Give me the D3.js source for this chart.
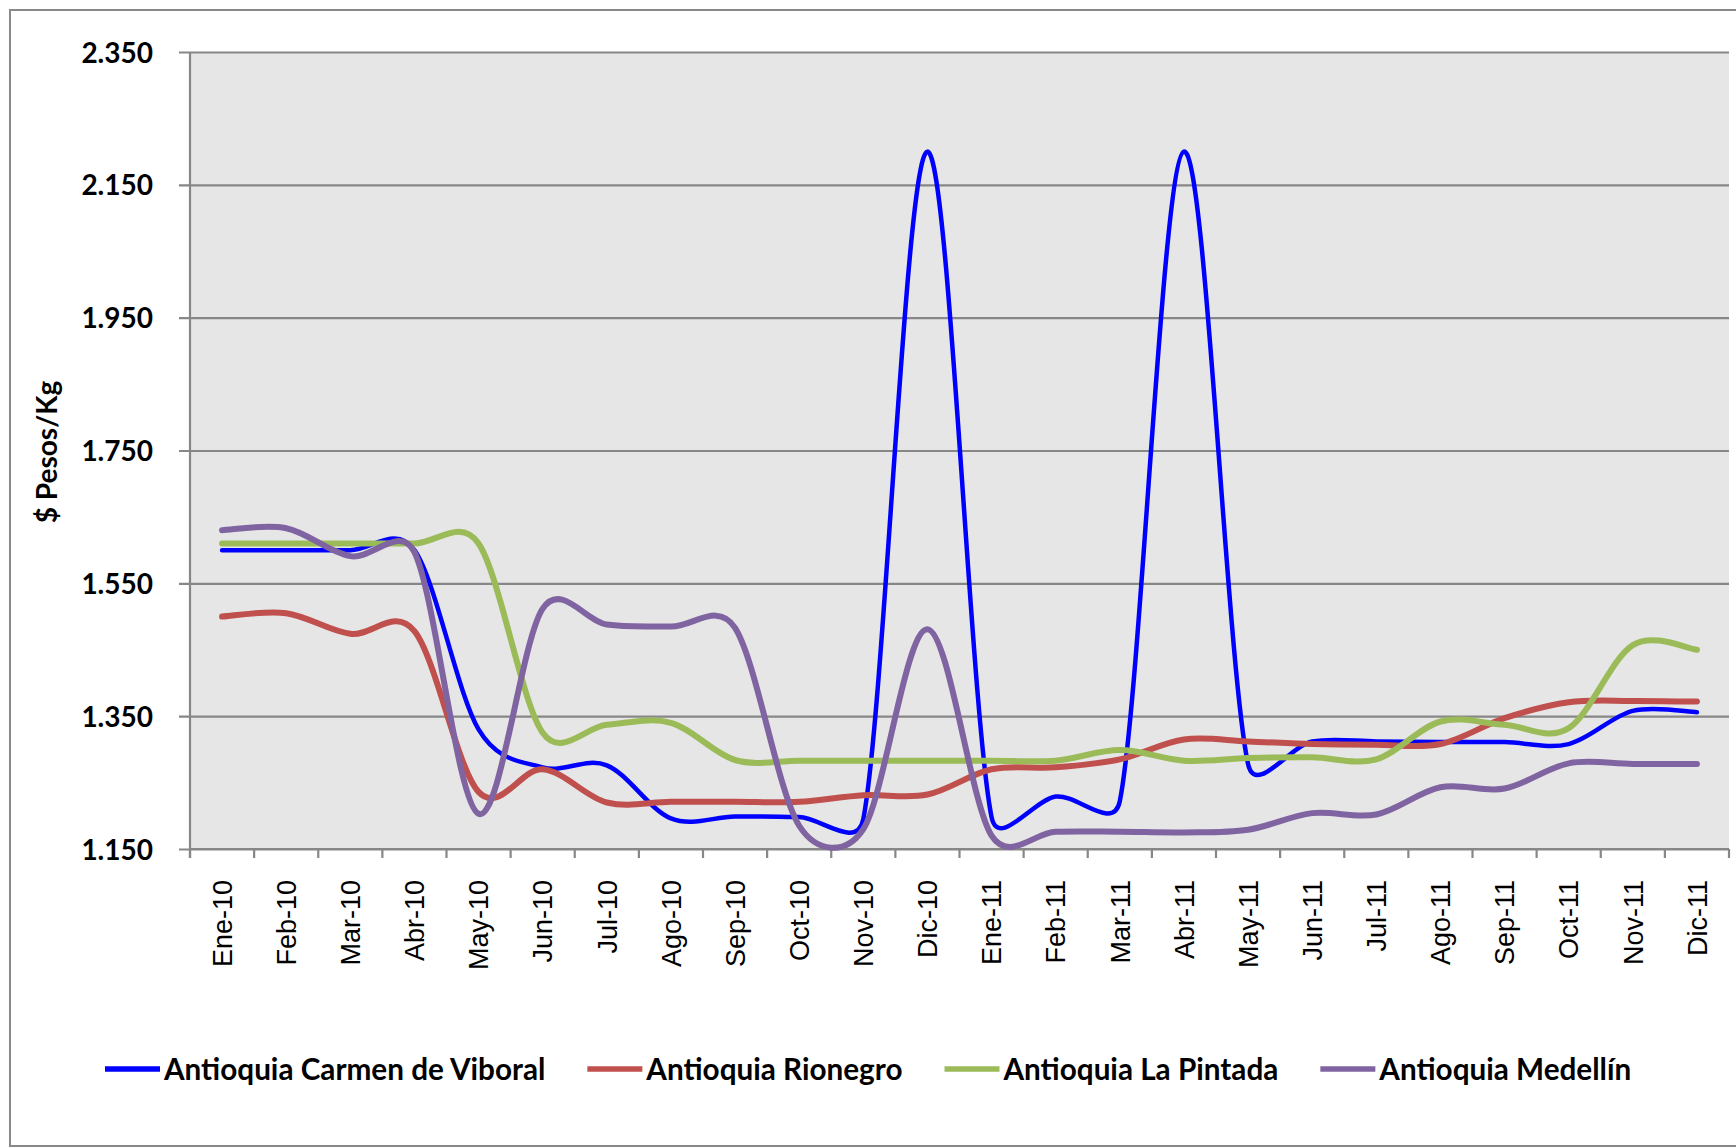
<!DOCTYPE html>
<html>
<head>
<meta charset="utf-8">
<script src="https://cdn.jsdelivr.net/npm/d3@7"></script>
<style>
  body { margin: 0; background: #fff; }
  svg { display: block; }
  .ylab, .ytitle, .legend text { font-family: Lato, "Open Sans", sans-serif; font-weight: bold; fill: #000; }
  .xlab { font-family: "Liberation Sans", Arial, sans-serif; fill: #000; }
</style>
</head>
<body>
<script>
// Chart data
var months = ['Ene-10', 'Feb-10', 'Mar-10', 'Abr-10', 'May-10', 'Jun-10', 'Jul-10', 'Ago-10',
              'Sep-10', 'Oct-10', 'Nov-10', 'Dic-10', 'Ene-11', 'Feb-11', 'Mar-11', 'Abr-11',
              'May-11', 'Jun-11', 'Jul-11', 'Ago-11', 'Sep-11', 'Oct-11', 'Nov-11', 'Dic-11'];
var carmen   = [1600, 1600, 1600, 1600, 1330, 1273, 1276, 1196, 1199, 1198, 1195, 2200,
                1198, 1229, 1222, 2200, 1278, 1312, 1312, 1311, 1311, 1308, 1358, 1356];
var rionegro = [1500, 1505, 1474, 1478, 1236, 1270, 1220, 1221, 1221, 1221, 1231, 1232,
                1270, 1273, 1285, 1315, 1312, 1308, 1307, 1308, 1347, 1371, 1373, 1372];
var pintada  = [1610, 1610, 1610, 1610, 1610, 1325, 1337, 1340, 1284, 1283, 1283, 1283,
                1283, 1283, 1299, 1283, 1287, 1288, 1285, 1342, 1337, 1332, 1457, 1450];
var medellin = [1630, 1633, 1591, 1597, 1203, 1512, 1488, 1485, 1483, 1185, 1180, 1481,
                1170, 1176, 1176, 1175, 1179, 1204, 1202, 1243, 1241, 1279, 1278, 1278];
var seriesNames  = ['Antioquia Carmen de Viboral', 'Antioquia Rionegro', 'Antioquia La Pintada', 'Antioquia Medellín'];
var seriesColors = ['#0000ff', '#c0504d', '#9bbb59', '#8064a2'];
var yTicks = [1150, 1350, 1550, 1750, 1950, 2150, 2350];

var width = 1736, height = 1148;
var plot = { left: 190, right: 1729, top: 52, bottom: 849 };

// Excel-like smoothing: cardinal bezier, control arm capped at half the segment
function clampVec(dx, dy, max) {
    var len = Math.hypot(dx, dy);
    if (len > max && len > 0) { dx *= max / len; dy *= max / len; }
    return [dx, dy];
}
function ExcelSmooth(context) { this._context = context; }
ExcelSmooth.prototype = {
    areaStart: function() { this._line = 0; },
    areaEnd: function() { this._line = NaN; },
    lineStart: function() { this._pts = []; },
    point: function(x, y) { this._pts.push([+x, +y]); },
    lineEnd: function() {
        var p = this._pts, n = p.length, ctx = this._context;
        if (!n) return;
        ctx.moveTo(p[0][0], p[0][1]);
        for (var i = 0; i < n - 1; i++) {
            var p0 = p[i > 0 ? i - 1 : i], p1 = p[i], p2 = p[i + 1], p3 = p[i + 2 < n ? i + 2 : i + 1];
            var half = Math.hypot(p2[0] - p1[0], p2[1] - p1[1]) / 2;
            var t1 = clampVec((p2[0] - p0[0]) / 6, (p2[1] - p0[1]) / 6, half);
            var t2 = clampVec((p3[0] - p1[0]) / 6, (p3[1] - p1[1]) / 6, half);
            ctx.bezierCurveTo(p1[0] + t1[0], p1[1] + t1[1], p2[0] - t2[0], p2[1] - t2[1], p2[0], p2[1]);
        }
    }
};
var curveExcel = function(context) { return new ExcelSmooth(context); };

var svg = d3.select('body').append('svg')
    .attr('width', width)
    .attr('height', height);

// Outer chart border
svg.append('rect')
    .attr('x', 10).attr('y', 10)
    .attr('width', 1760).attr('height', 1136)
    .attr('fill', '#fff')
    .attr('stroke', '#898989')
    .attr('stroke-width', 2);

var x = d3.scaleBand()
    .domain(months)
    .range([plot.left, plot.right])
    .paddingInner(0).paddingOuter(0);

var y = d3.scaleLinear()
    .domain([1150, 2350])
    .range([plot.bottom, plot.top]);

// Plot area
svg.append('rect')
    .attr('x', plot.left).attr('y', plot.top)
    .attr('width', plot.right - plot.left).attr('height', plot.bottom - plot.top)
    .attr('fill', '#e6e6e6');

// Gridlines + left axis
var yAxis = svg.append('g')
    .attr('transform', 'translate(' + plot.left + ',0)')
    .call(d3.axisLeft(y)
        .tickValues(yTicks)
        .tickSizeInner(11)
        .tickSizeOuter(0)
        .tickPadding(26)
        .tickFormat(function(d) { return d3.format(',')(d).replace(',', '.'); }));
yAxis.select('.domain').remove();
yAxis.selectAll('.tick line').attr('x1', -11).attr('x2', plot.right - plot.left)
    .attr('stroke', '#878787').attr('stroke-width', 2.2);
yAxis.selectAll('.tick text')
    .attr('class', 'ylab')
    .attr('font-size', 28)
    .attr('dy', '0.36em');

svg.append('line')
    .attr('x1', plot.left).attr('x2', plot.left)
    .attr('y1', plot.top).attr('y2', plot.bottom + 9)
    .attr('stroke', '#878787').attr('stroke-width', 2.2);

// Bottom axis: ticks at category boundaries, rotated labels at centers
var xTickPos = months.map(function(m) { return x(m); }).concat([plot.right]);
svg.append('g').selectAll('line')
    .data(xTickPos)
    .enter()
    .append('line')
    .attr('x1', function(d) { return d; }).attr('x2', function(d) { return d; })
    .attr('y1', plot.bottom).attr('y2', plot.bottom + 9)
    .attr('stroke', '#878787').attr('stroke-width', 2.2);

svg.append('line')
    .attr('x1', plot.left).attr('x2', plot.right)
    .attr('y1', plot.bottom).attr('y2', plot.bottom)
    .attr('stroke', '#878787').attr('stroke-width', 2.2);

svg.append('g').selectAll('text')
    .data(months)
    .enter()
    .append('text')
    .attr('class', 'xlab')
    .attr('font-size', 27)
    .attr('text-anchor', 'end')
    .attr('dy', '0.36em')
    .attr('transform', function(d) { return 'translate(' + (x(d) + x.bandwidth() / 2) + ',' + 880 + ') rotate(-90)'; })
    .text(function(d) { return d; });

// Y axis title
svg.append('text')
    .attr('class', 'ytitle')
    .attr('font-size', 28)
    .attr('text-anchor', 'middle')
    .attr('dy', '0.36em')
    .attr('transform', 'translate(47,452) rotate(-90)')
    .text('$ Pesos/Kg');

// Lines
var series = [carmen, rionegro, pintada, medellin];
var strokeW = [4.5, 6, 6, 6];
var lineGen = d3.line()
    .x(function(d, i) { return x(months[i]) + x.bandwidth() / 2; })
    .y(function(d) { return y(d); })
    .curve(curveExcel);

svg.append('g').selectAll('path')
    .data(series)
    .enter()
    .append('path')
    .attr('d', lineGen)
    .attr('fill', 'none')
    .attr('stroke', function(d, i) { return seriesColors[i]; })
    .attr('stroke-width', function(d, i) { return strokeW[i]; })
    .attr('stroke-linecap', 'round')
    .attr('stroke-linejoin', 'round');

// Legend
var legend = svg.append('g').attr('class', 'legend');
var lx = 105, ly = 1069;
seriesNames.forEach(function(name, i) {
    legend.append('line')
        .attr('x1', lx).attr('x2', lx + 55)
        .attr('y1', ly).attr('y2', ly)
        .attr('stroke', seriesColors[i])
        .attr('stroke-width', 5.5);
    var t = legend.append('text')
        .attr('x', lx + 59).attr('y', ly)
        .attr('dy', '0.36em')
        .attr('font-size', 29.7)
        .text(name);
    lx += 59 + t.node().getComputedTextLength() + 42;
});
</script>
</body>
</html>
